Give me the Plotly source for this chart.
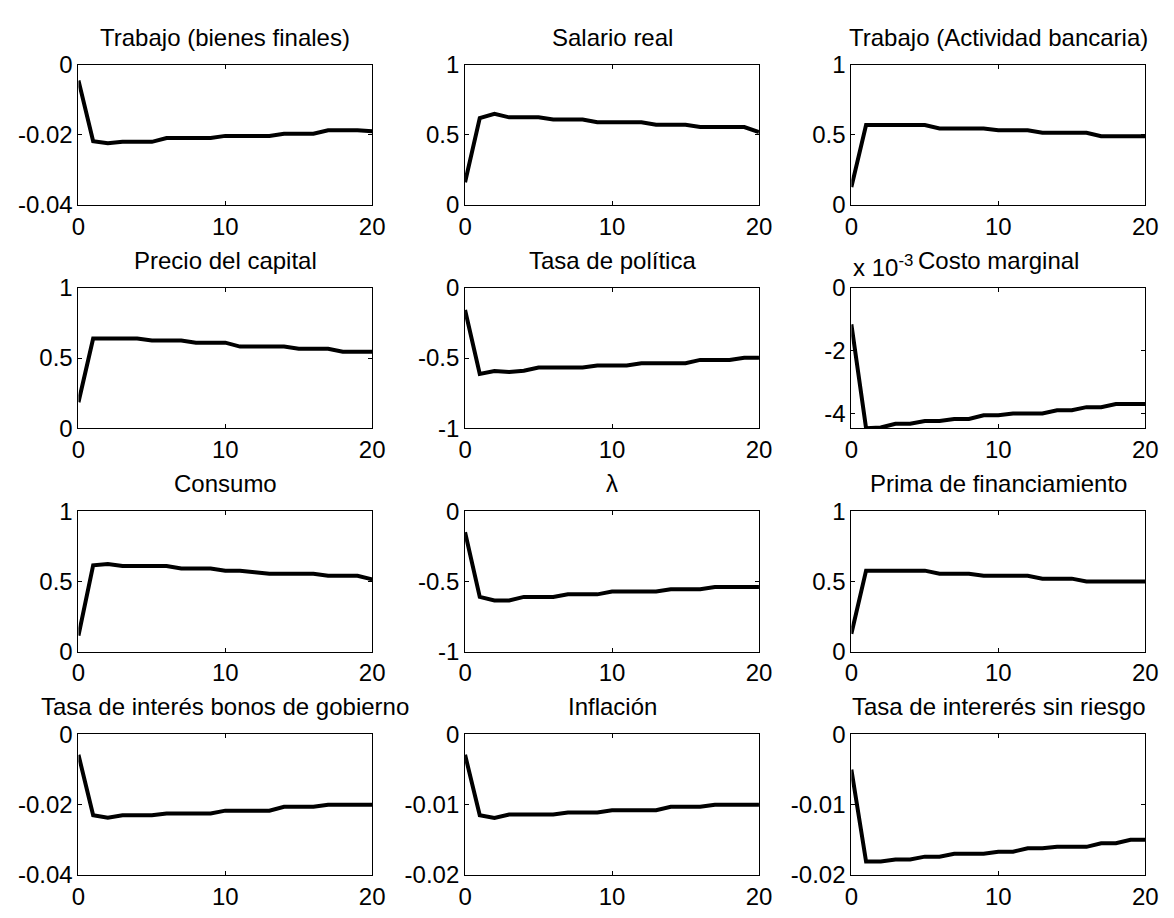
import plotly.graph_objects as go

# ---------------- data ----------------
periods = list(range(0, 21))

titles = [
    "Trabajo (bienes finales)", "Salario real", "Trabajo (Actividad bancaria)",
    "Precio del capital", "Tasa de política", "Costo marginal",
    "Consumo", "λ", "Prima de financiamiento",
    "Tasa de interés bonos de gobierno", "Inflación", "Tasa de intererés sin riesgo",
]

trabajo_bienes = [-0.0045, -0.0218, -0.0224, -0.0220, -0.0220, -0.0220, -0.0209, -0.0209, -0.0209, -0.0209,
                  -0.0203, -0.0203, -0.0203, -0.0203, -0.0197, -0.0197, -0.0197, -0.0187, -0.0187, -0.0187, -0.0190]
salario_real = [0.162, 0.620, 0.650, 0.625, 0.625, 0.625, 0.610, 0.610, 0.610, 0.590,
                0.590, 0.590, 0.590, 0.572, 0.572, 0.572, 0.556, 0.556, 0.556, 0.556, 0.520]
trabajo_banca = [0.127, 0.570, 0.570, 0.570, 0.570, 0.570, 0.545, 0.545, 0.545, 0.545,
                 0.532, 0.532, 0.532, 0.515, 0.515, 0.515, 0.515, 0.490, 0.490, 0.490, 0.490]
precio_capital = [0.185, 0.640, 0.640, 0.640, 0.640, 0.625, 0.625, 0.625, 0.610, 0.610,
                  0.610, 0.582, 0.582, 0.582, 0.582, 0.566, 0.566, 0.566, 0.545, 0.545, 0.545]
tasa_politica = [-0.157, -0.613, -0.592, -0.600, -0.590, -0.567, -0.567, -0.567, -0.567, -0.553,
                 -0.553, -0.553, -0.537, -0.537, -0.537, -0.537, -0.513, -0.513, -0.513, -0.497, -0.497]
costo_marginal = [-0.00116, -0.00447, -0.00445, -0.00433, -0.00433, -0.00424, -0.00424, -0.00418, -0.00418, -0.00406,
                  -0.00406, -0.00400, -0.00400, -0.00400, -0.00390, -0.00390, -0.00380, -0.00380, -0.00370, -0.00370, -0.00370]
consumo = [0.115, 0.615, 0.625, 0.610, 0.610, 0.610, 0.610, 0.592, 0.592, 0.592,
           0.576, 0.576, 0.566, 0.555, 0.555, 0.555, 0.555, 0.540, 0.540, 0.540, 0.515]
lambda_ = [-0.150, -0.610, -0.635, -0.635, -0.610, -0.610, -0.610, -0.592, -0.592, -0.592,
           -0.572, -0.572, -0.572, -0.572, -0.555, -0.555, -0.555, -0.540, -0.540, -0.540, -0.540]
prima_fin = [0.127, 0.577, 0.577, 0.577, 0.577, 0.577, 0.555, 0.555, 0.555, 0.540,
             0.540, 0.540, 0.540, 0.520, 0.520, 0.520, 0.500, 0.500, 0.500, 0.500, 0.500]
tasa_bonos = [-0.0058, -0.0230, -0.0237, -0.0230, -0.0230, -0.0230, -0.0225, -0.0225, -0.0225, -0.0225,
              -0.0217, -0.0217, -0.0217, -0.0217, -0.0206, -0.0206, -0.0206, -0.0200, -0.0200, -0.0200, -0.0200]
inflacion = [-0.0029, -0.0115, -0.0119, -0.0114, -0.0114, -0.0114, -0.0114, -0.0111, -0.0111, -0.0111,
             -0.0108, -0.0108, -0.0108, -0.0108, -0.0103, -0.0103, -0.0103, -0.0100, -0.0100, -0.0100, -0.0100]
tasa_sin_riesgo = [-0.0050, -0.0181, -0.0181, -0.0178, -0.0178, -0.0174, -0.0174, -0.0170, -0.0170, -0.0170,
                   -0.0167, -0.0167, -0.0162, -0.0162, -0.0160, -0.0160, -0.0160, -0.0155, -0.0155, -0.0150, -0.0150]

series = [trabajo_bienes, salario_real, trabajo_banca,
          precio_capital, tasa_politica, costo_marginal,
          consumo, lambda_, prima_fin,
          tasa_bonos, inflacion, tasa_sin_riesgo]

y_ranges = [[-0.04, 0], [0, 1], [0, 1],
            [0, 1], [-1, 0], [-0.00447, 0],
            [0, 1], [-1, 0], [0, 1],
            [-0.04, 0], [-0.02, 0], [-0.02, 0]]
y_tickvals = [[-0.04, -0.02, 0], [0, 0.5, 1], [0, 0.5, 1],
              [0, 0.5, 1], [-1, -0.5, 0], [-0.004, -0.002, 0],
              [0, 0.5, 1], [-1, -0.5, 0], [0, 0.5, 1],
              [-0.04, -0.02, 0], [-0.02, -0.01, 0], [-0.02, -0.01, 0]]
y_ticktext = [["-0.04", "-0.02", "0"], ["0", "0.5", "1"], ["0", "0.5", "1"],
              ["0", "0.5", "1"], ["-1", "-0.5", "0"], ["-4", "-2", "0"],
              ["0", "0.5", "1"], ["-1", "-0.5", "0"], ["0", "0.5", "1"],
              ["-0.04", "-0.02", "0"], ["-0.02", "-0.01", "0"], ["-0.02", "-0.01", "0"]]
x_tickvals = [0, 10, 20]
x_ticktext = ["0", "10", "20"]

# ---------------- layout geometry (pixels) ----------------
W, H = 1174, 918
col_px = [(72.7, 371.5), (466.0, 765.0), (859.0, 1158.0)]
row_px = [(52.3, 196.7), (282.3, 426.7), (512.3, 657.0), (742.3, 887.0)]

FONT = "Liberation Sans, Arial, Helvetica, sans-serif"
FS = 24

fig = go.Figure()
layout = dict(
    width=W, height=H, autosize=False,
    margin=dict(l=0, r=0, t=0, b=0),
    paper_bgcolor="white", plot_bgcolor="white",
    showlegend=False,
    font=dict(family=FONT, size=FS, color="black"),
)
annotations = []

for i, (ttl, ys) in enumerate(zip(titles, series)):
    r, c = divmod(i, 3)
    n = i + 1
    xa = "xaxis" if n == 1 else f"xaxis{n}"
    ya = "yaxis" if n == 1 else f"yaxis{n}"
    xref = "x" if n == 1 else f"x{n}"
    yref = "y" if n == 1 else f"y{n}"
    x0, x1 = col_px[c]
    y0, y1 = row_px[r]
    common = dict(showline=True, linecolor="black", linewidth=1, mirror="ticks",
                  ticks="inside", ticklen=4, tickwidth=1, tickcolor="black",
                  showgrid=False, zeroline=False,
                  tickfont=dict(family=FONT, size=FS, color="black"))
    layout[xa] = dict(domain=[x0 / W, x1 / W], anchor=yref, range=[0, 20],
                      tickmode="array", tickvals=x_tickvals, ticktext=x_ticktext, **common)
    layout[ya] = dict(domain=[1 - y1 / H, 1 - y0 / H], anchor=xref, range=y_ranges[i],
                      tickmode="array", tickvals=y_tickvals[i], ticktext=y_ticktext[i], **common)
    fig.add_trace(go.Scatter(x=periods, y=ys, mode="lines", xaxis=xref, yaxis=yref,
                             line=dict(color="black", width=4), hoverinfo="skip"))
    annotations.append(dict(text=ttl, xref="paper", yref="paper",
                            x=(x0 + x1) / 2 / W, y=1 - y0 / H, xanchor="center", yanchor="bottom",
                            yshift=12, showarrow=False,
                            font=dict(family=FONT, size=FS, color="black")))
    if ttl == "Costo marginal":
        annotations.append(dict(text="x 10<sup>-3</sup>", xref="paper", yref="paper",
                                x=x0 / W, y=1 - y0 / H, xanchor="left", yanchor="bottom",
                                yshift=5, showarrow=False,
                                font=dict(family=FONT, size=FS, color="black")))

layout["annotations"] = annotations
fig.update_layout(**layout)
fig.write_html("out.html")
